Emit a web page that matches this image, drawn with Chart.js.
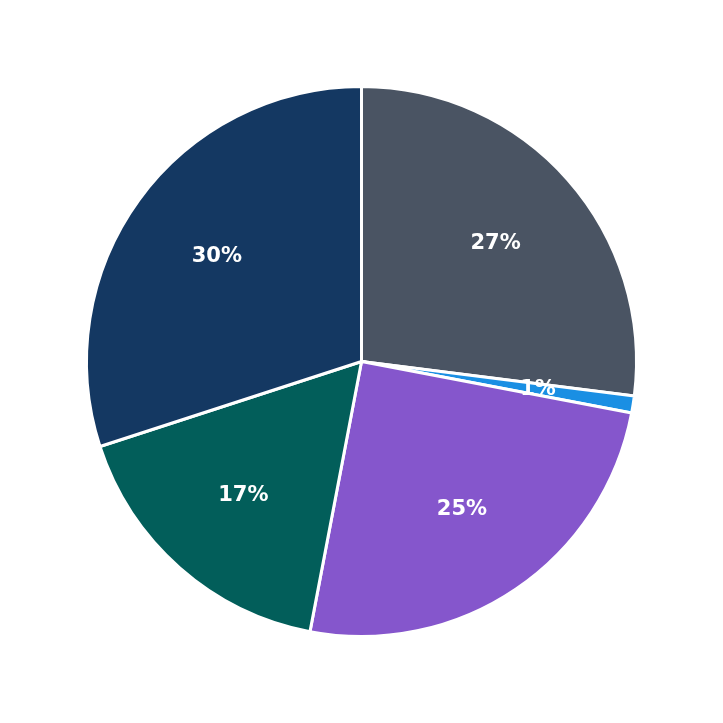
<!DOCTYPE html>
<html>
<head>
<meta charset="utf-8">
<script src="https://cdn.jsdelivr.net/npm/chart.js@4"></script>
<style>
  html, body { margin: 0; padding: 0; background: #fff; }
  #wrap { width: 723px; height: 723px; }
</style>
</head>
<body>
<div id="wrap"><canvas id="grafico"></canvas></div>
<script>
const categorias = ["A", "B", "C", "D", "E"];
const valores = [27, 1, 25, 17, 30];
const cores = ["#4a5463", "#1a8fe3", "#8556cc", "#025e5a", "#143862"];

// draws the percent text on every slice
const rotulos = {
  id: 'rotulos',
  afterDatasetsDraw(chart) {
    const ctx = chart.ctx;
    const meta = chart.getDatasetMeta(0);
    const total = valores.reduce((a, b) => a + b, 0);
    ctx.save();
    ctx.fillStyle = '#fff';
    ctx.font = 'bold 21px "DejaVu Sans"';
    ctx.textAlign = 'center';
    ctx.textBaseline = 'middle';
    meta.data.forEach((arc, i) => {
      const ang = (arc.startAngle + arc.endAngle) / 2;
      const r = arc.outerRadius * 0.65;
      const x = arc.x + Math.cos(ang) * r;
      const y = arc.y + Math.sin(ang) * r;
      ctx.fillText(Math.round(valores[i] / total * 100) + '%', x, y);
    });
    ctx.restore();
  }
};

new Chart(document.getElementById('grafico'), {
  type: 'pie',
  data: {
    labels: categorias,
    datasets: [{
      data: valores,
      backgroundColor: cores,
      borderColor: '#fff',
      borderWidth: 3
    }]
  },
  options: {
    responsive: true,
    maintainAspectRatio: false,
    animation: false,
    layout: { padding: 85 },
    plugins: { legend: { display: false }, tooltip: { enabled: false } }
  },
  plugins: [rotulos]
});
</script>
</body>
</html>
